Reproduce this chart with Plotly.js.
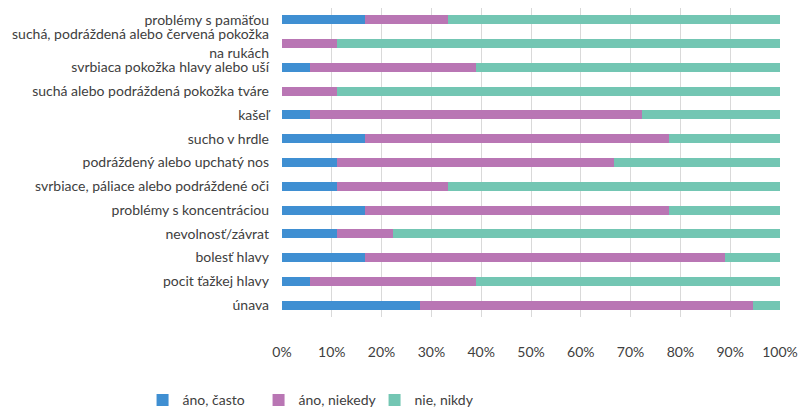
<!DOCTYPE html>
<html>
<head>
<meta charset="utf-8">
<script src="https://cdn.plot.ly/plotly-3.0.1.min.js"></script>
<style>html,body{margin:0;padding:0;background:#fff;}#chart{width:806px;height:410px;}</style>
</head>
<body>
<div id="chart"></div>
<script>
const categories = [
  "problémy s pamäťou",
  "suchá, podráždená alebo červená pokožka<br>na rukách",
  "svrbiaca pokožka hlavy alebo uší",
  "suchá alebo podráždená pokožka tváre",
  "kašeľ",
  "sucho v hrdle",
  "podráždený alebo upchatý nos",
  "svrbiace, páliace alebo podráždené oči",
  "problémy s koncentráciou",
  "nevolnosť/závrat",
  "bolesť hlavy",
  "pocit ťažkej hlavy",
  "únava"
];
const seriesNames = ["áno, často", "áno, niekedy", "nie, nikdy"];
const anoCasto    = [16.7, 0.0, 5.6, 0.0, 5.6, 16.7, 11.1, 11.1, 16.7, 11.1, 16.7, 5.6, 27.8];
const anoNiekedy  = [16.7, 11.1, 33.3, 11.1, 66.7, 61.1, 55.6, 22.2, 61.1, 11.1, 72.2, 33.3, 66.7];
const nieNikdy    = [66.6, 88.9, 61.1, 88.9, 27.7, 22.2, 33.3, 66.7, 22.2, 77.8, 11.1, 61.1, 5.5];
const colors = ["#3f8fd2", "#b976b4", "#73c6b3"];

const values = [anoCasto, anoNiekedy, nieNikdy];
const data = values.map((v, i) => ({
  type: "bar",
  orientation: "h",
  name: seriesNames[i],
  y: categories,
  x: v,
  marker: {color: colors[i], line: {width: 0}},
  hoverinfo: "x+name"
}));

const font = {family: "Lato, 'Open Sans', sans-serif", size: 14, color: "#404040"};
const layout = {
  width: 806, height: 410,
  margin: {l: 282, r: 26, t: 8, b: 93, pad: 0, autoexpand: false},
  barmode: "stack",
  bargap: 0.62,
  font: font,
  paper_bgcolor: "#fff",
  plot_bgcolor: "#fff",
  showlegend: true,
  xaxis: {
    range: [0, 100],
    dtick: 10,
    tick0: 0,
    ticksuffix: "%",
    showgrid: true,
    gridcolor: "#d9d9d9",
    gridwidth: 1,
    zeroline: false,
    showline: false,
    ticks: "",
    ticklabelstandoff: 25,
    tickfont: font,
    automargin: false,
    fixedrange: true
  },
  yaxis: {
    type: "category",
    autorange: "reversed",
    showgrid: false,
    zeroline: false,
    showline: false,
    ticks: "",
    ticklabelstandoff: 12,
    tickfont: font,
    automargin: false,
    fixedrange: true
  },
  legend: {
    orientation: "h",
    x: -0.28, xanchor: "left",
    y: -0.27, yanchor: "middle",
    traceorder: "normal",
    font: font,
    entrywidth: 71,
    itemwidth: 30,
    bgcolor: "rgba(0,0,0,0)"
  }
};
Plotly.newPlot("chart", data, layout, {displayModeBar: false, staticPlot: true});
</script>
</body>
</html>
